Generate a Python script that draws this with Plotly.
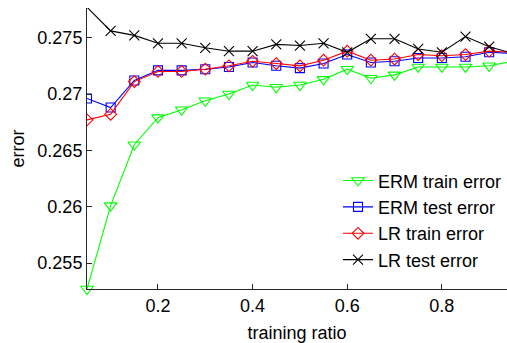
import plotly.graph_objects as go

# training ratio (x) and error curves
ratio = [0.05, 0.10, 0.15, 0.20, 0.25, 0.30, 0.35, 0.40, 0.45, 0.50,
         0.55, 0.60, 0.65, 0.70, 0.75, 0.80, 0.85, 0.90, 0.95]

erm_train = [0.2527, 0.2601, 0.2655, 0.2679, 0.2686, 0.2694, 0.2700, 0.2708, 0.2706, 0.2708,
             0.2713, 0.2722, 0.2714, 0.2717, 0.2724, 0.2724, 0.2724, 0.2725, 0.2729]
erm_test = [0.2696, 0.2688, 0.2712, 0.2721, 0.2721, 0.2722, 0.2724, 0.2728, 0.2725, 0.2723,
            0.2727, 0.2735, 0.2728, 0.2729, 0.2732, 0.2732, 0.2733, 0.2737, 0.2736]
lr_train = [0.2677, 0.2682, 0.2711, 0.2720, 0.2720, 0.2722, 0.2725, 0.2729, 0.2727, 0.2725,
            0.2730, 0.2738, 0.2730, 0.2731, 0.2735, 0.2734, 0.2735, 0.2738, 0.2737]
lr_test = [0.2777, 0.2756, 0.2752, 0.2745, 0.2745, 0.2741, 0.2738, 0.2738, 0.2744, 0.2743,
           0.2745, 0.2737, 0.2749, 0.2749, 0.2740, 0.2737, 0.2751, 0.2742, 0.2736]

x_ticks = [0.2, 0.4, 0.6, 0.8]
x_ticktext = ["0.2", "0.4", "0.6", "0.8"]
y_ticks = [0.255, 0.26, 0.265, 0.27, 0.275]
y_ticktext = ["0.255", "0.26", "0.265", "0.27", "0.275"]

FONT = "Liberation Sans, Arial, sans-serif"

series = [
    ("ERM train error", erm_train, "#00ff00", "triangle-down-open", 11, False),
    ("ERM test error", erm_test, "#0000ff", "square-open", 9, True),
    ("LR train error", lr_train, "#ff0000", "diamond-open", 9, True),
    ("LR test error", lr_test, "#000000", "x-thin-open", 10, True),
]

fig = go.Figure()
for name, vals, color, symbol, size, clip in series:
    fig.add_trace(go.Scatter(
        x=ratio, y=vals, name=name, mode="lines+markers",
        line=dict(color=color, width=1.1),
        marker=dict(symbol=symbol, size=size, color=color,
                    line=dict(color=color, width=1.1)),
        cliponaxis=clip,
    ))

fig.update_layout(
    width=507, height=343,
    margin=dict(l=87, r=0, t=8, b=50),
    paper_bgcolor="white", plot_bgcolor="white",
    font=dict(family=FONT, size=18, color="#000000"),
    showlegend=True,
    legend=dict(x=0.598, y=0.451, xanchor="left", yanchor="top",
                bgcolor="rgba(255,255,255,0)", borderwidth=0,
                font=dict(size=18)),
    xaxis=dict(
        range=[0.05, 0.9377], tickvals=x_ticks, ticktext=x_ticktext,
        ticks="inside", ticklen=5, tickcolor="#262626",
        showline=True, linecolor="#262626", linewidth=1,
        showgrid=False, zeroline=False,
        title=dict(text="training ratio", font=dict(size=18)),
    ),
    yaxis=dict(
        range=[0.2527, 0.27763], tickvals=y_ticks, ticktext=y_ticktext,
        ticks="inside", ticklen=5, tickcolor="#262626",
        showline=True, linecolor="#262626", linewidth=1,
        showgrid=False, zeroline=False,
        title=dict(text="error", font=dict(size=18), standoff=8),
    ),
)

fig.write_html("out.html")
